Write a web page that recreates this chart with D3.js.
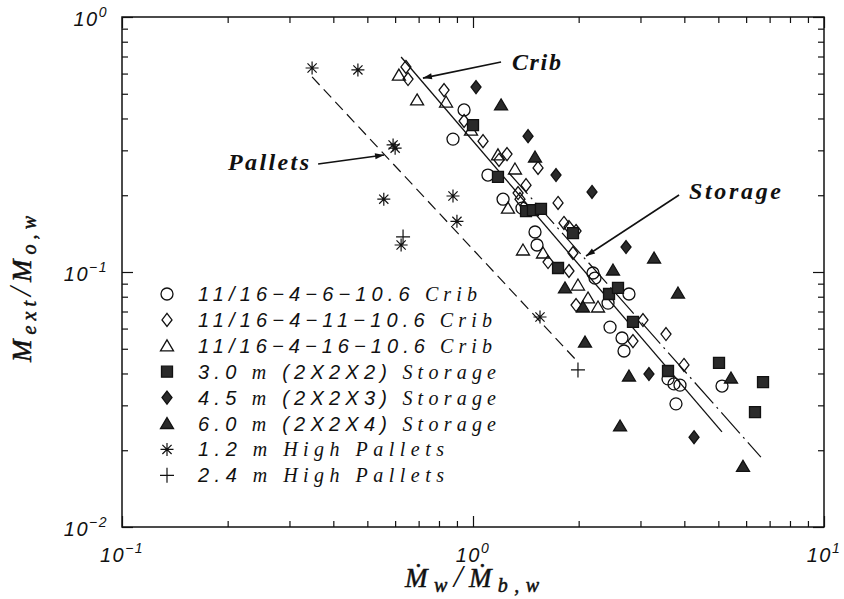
<!DOCTYPE html>
<html>
<head>
<script src="https://d3js.org/d3.v7.min.js"></script>
<style>
  body { margin: 0; background: #fff; }
  svg { display: block; }
  .ax line { stroke: #111; stroke-width: 1.2; }
  .ax .domain { display: none; }
  .tk { font-family: "Liberation Sans", Arial, sans-serif; font-style: italic; font-size: 20px; letter-spacing: 1.5px; fill: #111; }
  .lg { font-size: 20px; fill: #111; font-style: italic; }
  .sans { font-family: "Liberation Sans", Arial, sans-serif; }
  .serif { font-family: "Liberation Serif", "DejaVu Serif", serif; }
  .note { font-family: "Liberation Serif", "DejaVu Serif", serif; font-style: italic; font-weight: bold; font-size: 24px; fill: #111; }
  .axlab { font-family: "Liberation Serif", "DejaVu Serif", serif; font-style: italic; font-size: 27px; fill: #111; stroke: #111; stroke-width: 0.5; }
</style>
</head>
<body>
<svg id="chart" width="844" height="599"></svg>
<script>
// points [Mw/Mbw, Mext/Mow]
const crib6 = [[0.943,0.432],[0.877,0.332],[1.103,0.240],[1.218,0.193],[1.379,0.178],[1.502,0.1435],[1.522,0.1276],[2.197,0.0991],[2.226,0.0947],[2.782,0.0820],[2.425,0.0755],[2.457,0.0608],[2.658,0.0551],[2.693,0.0490],[3.594,0.0381],[3.738,0.0364],[3.888,0.0360],[3.787,0.0304],[5.122,0.0357]];
const crib11 = [[0.644,0.637],[0.653,0.571],[0.827,0.517],[0.943,0.391],[1.068,0.326],[1.250,0.290],[1.186,0.275],[1.532,0.256],[1.416,0.219],[1.344,0.204],[1.361,0.193],[1.747,0.1865],[1.816,0.1557],[1.877,0.150],[1.966,0.1448],[1.927,0.1187],[1.636,0.1094],[1.877,0.1009],[1.966,0.0742],[3.050,0.0648],[2.856,0.0536],[3.547,0.0571],[3.991,0.0432]];
const crib16 = [[0.615,0.592],[0.693,0.473],[0.838,0.464],[0.987,0.360],[1.178,0.288],[1.317,0.2535],[1.258,0.178],[1.388,0.122],[1.583,0.1187],[1.991,0.0889],[2.127,0.0791],[2.271,0.0729]];
const stor2 = [[1.0,0.377],[1.178,0.236],[1.416,0.1734],[1.482,0.175],[1.562,0.1767],[1.927,0.142],[1.747,0.1037],[2.441,0.0820],[2.589,0.0866],[2.856,0.0637],[3.594,0.0409],[5.022,0.0440],[6.703,0.0370],[6.359,0.0282]];
const stor3 = [[1.02,0.531],[1.435,0.341],[1.724,0.240],[2.183,0.206],[2.729,0.1253],[3.172,0.0398],[4.263,0.0225]];
const stor4 = [[1.202,0.452],[1.502,0.2825],[2.505,0.1018],[3.280,0.1135],[1.828,0.0866],[2.058,0.0729],[3.837,0.0827],[2.085,0.0531],[2.782,0.0391],[2.624,0.0249],[5.433,0.0384],[5.878,0.0173]];
const pal12 = [[0.348,0.631],[0.470,0.620],[0.592,0.315],[0.600,0.306],[0.557,0.193],[0.877,0.1986],[0.900,0.158],[0.624,0.1276],[1.552,0.0666]];
const pal24 = [[0.632,0.1372],[1.991,0.0413]];

// fitted lines
const palletFit = [[0.348,0.582],[1.965,0.0452]];
const cribFit = [[0.624,0.697],[5.12,0.0236]];
const storageFit = [[1.266,0.2445],[6.61,0.0188]];

const legendLabels = [
  "11/16−4−6−10.6 Crib", "11/16−4−11−10.6 Crib", "11/16−4−16−10.6 Crib",
  "3.0 m (2X2X2) Storage", "4.5 m (2X2X3) Storage", "6.0 m (2X2X4) Storage",
  "1.2 m High Pallets", "2.4 m High Pallets"
];
const legendWidths = [279, 294, 294, 298, 298, 298, 246, 246];

const majorTicks = [0.1, 1, 10];
const yMajor = [0.01, 0.1, 1];
const exps = ["−1", "0", "1"];
const yExps = ["−2", "−1", "0"];

// annotations: label pos, arrow start, arrow tip
const notes = [
  { text: "Crib", at: [1.291, 0.620], anchor: "start", len: 49, from: [1.202, 0.666], to: [0.720, 0.576] },
  { text: "Pallets", at: [0.341, 0.251], anchor: "end", len: 81, from: [0.362, 0.265], to: [0.558, 0.2876] },
  { text: "Storage", at: [4.125, 0.193], anchor: "start", len: 92, from: [3.864, 0.2004], to: [2.099, 0.1155] }
];

const svg = d3.select("#chart");
const pLeft = 122, pRight = 824, pTop = 17, pBottom = 527;
const x = d3.scaleLog().domain([0.1, 10]).range([pLeft, pRight]);
const y = d3.scaleLog().domain([0.01, 1]).range([pBottom, pTop]);

const minor = (lo, hi) => {
  const out = [];
  for (let d = lo; d < hi; d *= 10) for (let k = 2; k <= 9; k++) out.push(d * k);
  return out;
};
const xMinor = minor(0.1, 10), yMinor = minor(0.01, 1);

// frame
svg.append("rect").attr("x", pLeft).attr("y", pTop).attr("width", pRight - pLeft).attr("height", pBottom - pTop)
  .attr("fill", "none").attr("stroke", "#111").attr("stroke-width", 1.5);

function ticks(axisFn, scale, pos, vals, len) {
  svg.append("g").attr("class", "ax").attr("transform", pos)
    .call(axisFn(scale).tickValues(vals).tickSize(len).tickFormat(""));
}
ticks(d3.axisBottom, x, `translate(0,${pBottom})`, majorTicks, -11);
ticks(d3.axisBottom, x, `translate(0,${pBottom})`, xMinor, -6);
ticks(d3.axisTop, x, `translate(0,${pTop})`, majorTicks, -11);
ticks(d3.axisTop, x, `translate(0,${pTop})`, xMinor, -6);
ticks(d3.axisLeft, y, `translate(${pLeft},0)`, yMajor, -11);
ticks(d3.axisLeft, y, `translate(${pLeft},0)`, yMinor, -6);
ticks(d3.axisRight, y, `translate(${pRight},0)`, yMajor, -11);
ticks(d3.axisRight, y, `translate(${pRight},0)`, yMinor, -6);

// tick labels
majorTicks.forEach((v, i) => {
  const t = svg.append("text").attr("class", "tk").attr("x", x(v)).attr("y", 562).attr("text-anchor", "middle");
  t.append("tspan").text("10");
  t.append("tspan").attr("dy", -9).attr("font-size", 14).text(exps[i]);
});
yMajor.forEach((v, i) => {
  const t = svg.append("text").attr("class", "tk").attr("x", 108).attr("y", y(v) + 9).attr("text-anchor", "end");
  t.append("tspan").text("10");
  t.append("tspan").attr("dy", -9).attr("font-size", 14).text(yExps[i]);
});

// axis labels
const xl = svg.append("text").attr("class", "axlab").attr("x", 472).attr("y", 587).attr("text-anchor", "middle")
  .attr("textLength", 134).attr("lengthAdjust", "spacing");
xl.append("tspan").text("Ṁ");
xl.append("tspan").attr("font-size", 20).attr("dy", 5).text("w");
xl.append("tspan").attr("dy", -5).attr("font-size", 32).attr("stroke-width", 0).text("/");
xl.append("tspan").text("Ṁ");
xl.append("tspan").attr("font-size", 20).attr("dy", 5).text("b,w");

const yl = svg.append("text").attr("class", "axlab").attr("transform", "translate(31,289) rotate(-90)").attr("text-anchor", "middle")
  .attr("textLength", 146).attr("lengthAdjust", "spacing");
yl.append("tspan").text("M");
yl.append("tspan").attr("font-size", 20).attr("dy", 5).text("ext");
yl.append("tspan").attr("dy", -5).attr("font-size", 32).attr("stroke-width", 0).text("/");
yl.append("tspan").text("M");
yl.append("tspan").attr("font-size", 20).attr("dy", 5).text("o,w");

// fitted lines
const line = d3.line().x(d => x(d[0])).y(d => y(d[1]));
svg.append("path").attr("d", line(palletFit)).attr("fill", "none").attr("stroke", "#111").attr("stroke-width", 1.2).attr("stroke-dasharray", "11,6");
svg.append("path").attr("d", line(cribFit)).attr("fill", "none").attr("stroke", "#111").attr("stroke-width", 1.3);
svg.append("path").attr("d", line(storageFit)).attr("fill", "none").attr("stroke", "#111").attr("stroke-width", 1.2).attr("stroke-dasharray", "28,5,2,5");

// marker shapes
const shapes = {
  circle: "M6,0A6,6 0 1,1 -6,0A6,6 0 1,1 6,0Z",
  diamond: "M0,-6.5L5,0L0,6.5L-5,0Z",
  triangle: "M0,-6L6.5,5L-6.5,5Z",
  square: "M-5.5,-5.5h11v11h-11Z",
  star: "M0,-6.5V6.5M-6.5,0H6.5M-4.6,-4.6L4.6,4.6M-4.6,4.6L4.6,-4.6",
  plus: "M0,-7.5V7.5M-7,0H7"
};
const series = [
  { data: crib6, shape: "circle", filled: false },
  { data: crib11, shape: "diamond", filled: false },
  { data: crib16, shape: "triangle", filled: false },
  { data: stor2, shape: "square", filled: true },
  { data: stor3, shape: "diamond", filled: true },
  { data: stor4, shape: "triangle", filled: true },
  { data: pal12, shape: "star", filled: false },
  { data: pal24, shape: "plus", filled: false }
];

function mark(g, s) {
  return g.append("path").attr("d", shapes[s.shape])
    .attr("fill", s.filled ? "#2a2a2a" : "none")
    .attr("stroke", "#111").attr("stroke-width", s.shape === "star" || s.shape === "plus" ? 1.2 : 1.3);
}

series.forEach(s => {
  s.data.forEach(d => {
    const g = svg.append("g").attr("transform", `translate(${x(d[0])},${y(d[1])})`);
    mark(g, s);
  });
});

// legend
const rowY = i => 294 + i * 25.9;
series.forEach((s, i) => {
  const g = svg.append("g").attr("transform", `translate(167,${rowY(i)})`);
  mark(g, s);
  const t = svg.append("text").attr("class", "lg").attr("x", 198).attr("y", rowY(i) + 7)
    .attr("textLength", legendWidths[i]).attr("lengthAdjust", "spacing");
  legendLabels[i].split(" ").forEach((w, j) => {
    const word = /^[A-Za-z]+$/.test(w);
    t.append("tspan").attr("class", word ? "serif" : "sans").text((j ? " " : "") + w);
  });
});

// annotations
notes.forEach(n => {
  svg.append("text").attr("class", "note").attr("x", x(n.at[0])).attr("y", y(n.at[1]))
    .attr("text-anchor", n.anchor).attr("textLength", n.len).attr("lengthAdjust", "spacing").text(n.text);
  const x1 = x(n.from[0]), y1 = y(n.from[1]), x2 = x(n.to[0]), y2 = y(n.to[1]);
  svg.append("line").attr("x1", x1).attr("y1", y1).attr("x2", x2).attr("y2", y2)
    .attr("stroke", "#111").attr("stroke-width", 1.6);
  const a = Math.atan2(y2 - y1, x2 - x1);
  const hl = 9, hw = 3;
  const p = [
    [x2, y2],
    [x2 - hl * Math.cos(a) + hw * Math.sin(a), y2 - hl * Math.sin(a) - hw * Math.cos(a)],
    [x2 - hl * Math.cos(a) - hw * Math.sin(a), y2 - hl * Math.sin(a) + hw * Math.cos(a)]
  ];
  svg.append("path").attr("d", "M" + p.join("L") + "Z").attr("fill", "#111");
});
</script>
</body>
</html>
